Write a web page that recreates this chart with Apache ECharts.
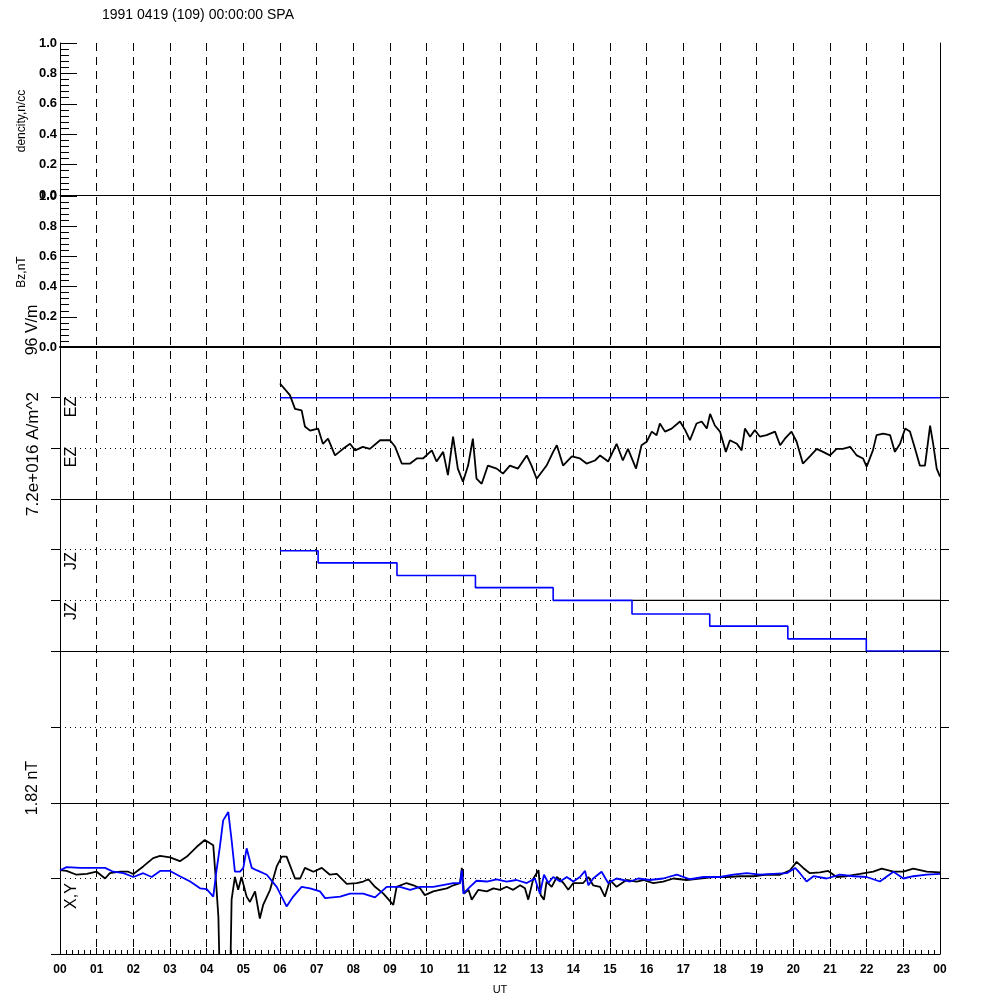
<!DOCTYPE html>
<html><head><meta charset="utf-8">
<script src="https://cdn.jsdelivr.net/npm/echarts@6/dist/echarts.min.js"></script>
<style>html,body{margin:0;padding:0;background:#fff}#c{width:1000px;height:1000px}</style>
</head><body><div id="c"></div>
<script>
const titleText = '1991 0419 (109) 00:00:00 SPA';
const hourLabels = ['00','01','02','03','04','05','06','07','08','09','10','11','12','13','14','15','16','17','18','19','20','21','22','23','00'];
const unitTicks = ['0.0','0.2','0.4','0.6','0.8','1.0'];

// EZ (black) trace, hours UT vs offset from blue baseline (dotted-line units)
const ezTrace = [[6.00,0.28],[6.27,0.05],[6.41,-0.22],[6.59,-0.25],[6.68,-0.57],[6.82,-0.65],[7.04,-0.61],[7.17,-0.91],[7.31,-0.81],[7.50,-1.14],[7.72,-1.01],[7.91,-0.91],[8.05,-1.04],[8.26,-0.97],[8.45,-1.01],[8.73,-0.84],[9.00,-0.84],[9.14,-0.97],[9.32,-1.30],[9.55,-1.30],[9.73,-1.20],[9.90,-1.20],[10.14,-1.04],[10.27,-1.26],[10.45,-1.07],[10.58,-1.53],[10.72,-0.77],[10.85,-1.40],[10.99,-1.66],[11.13,-1.34],[11.26,-0.81],[11.36,-1.60],[11.50,-1.70],[11.67,-1.34],[11.91,-1.40],[12.08,-1.50],[12.27,-1.34],[12.49,-1.40],[12.73,-1.14],[12.86,-1.34],[13.00,-1.60],[13.27,-1.34],[13.45,-1.07],[13.55,-0.94],[13.72,-1.34],[13.96,-1.16],[14.18,-1.20],[14.36,-1.30],[14.59,-1.24],[14.73,-1.14],[14.95,-1.26],[15.18,-0.91],[15.35,-1.24],[15.49,-1.01],[15.71,-1.40],[15.86,-0.94],[16.00,-0.87],[16.14,-0.67],[16.27,-0.74],[16.36,-0.51],[16.50,-0.67],[16.68,-0.61],[16.91,-0.47],[17.05,-0.64],[17.18,-0.84],[17.36,-0.51],[17.50,-0.47],[17.64,-0.61],[17.73,-0.32],[17.86,-0.55],[18.00,-0.67],[18.16,-1.07],[18.27,-0.84],[18.46,-0.91],[18.59,-1.04],[18.68,-0.61],[18.82,-0.77],[18.95,-0.64],[19.09,-0.77],[19.27,-0.74],[19.50,-0.67],[19.64,-0.94],[19.77,-0.81],[19.95,-0.67],[20.09,-0.87],[20.26,-1.30],[20.45,-1.16],[20.64,-1.01],[20.81,-1.07],[21.00,-1.14],[21.18,-1.01],[21.35,-1.01],[21.55,-0.97],[21.73,-1.14],[21.90,-1.20],[22.00,-1.36],[22.17,-1.04],[22.27,-0.74],[22.45,-0.71],[22.64,-0.74],[22.77,-1.07],[22.91,-0.91],[23.05,-0.61],[23.18,-0.67],[23.32,-1.01],[23.45,-1.34],[23.59,-1.34],[23.73,-0.55],[23.82,-0.94],[23.91,-1.40],[24.00,-1.56]];
// EZ blue baseline
const ezBlue = [[6,0],[24,0]];
// JZ blue step trace
const jzBlue = [[6.00,-0.02],[7.04,-0.26],[9.19,-0.51],[11.33,-0.75],[13.45,-1.0],[15.6,-1.27],[17.72,-1.51],[19.85,-1.76],[21.99,-2.0],[24.0,-2.0]];
const jzBlack = [[15.6,-1],[24,-1]];
// Magnetometer X (black) and Y (blue), normalized to the 1.82 nT scale
const magX = [[0.00,0.11],[0.18,0.10],[0.45,0.05],[0.73,0.06],[1.00,0.09],[1.23,0.00],[1.36,0.07],[1.64,0.09],[1.86,0.09],[2.00,0.06],[2.27,0.16],[2.54,0.27],[2.73,0.30],[3.00,0.28],[3.27,0.23],[3.46,0.29],[3.73,0.42],[3.95,0.51],[4.18,0.44],[4.27,-0.15],[4.32,-0.51],[4.36,-1.4],[4.64,-1.4],[4.68,-0.28],[4.77,0.02],[4.86,-0.15],[4.95,0.02],[5.09,-0.24],[5.18,-0.31],[5.32,-0.17],[5.45,-0.53],[5.54,-0.35],[5.73,-0.15],[5.91,0.16],[6.05,0.29],[6.18,0.29],[6.41,0.00],[6.55,0.00],[6.68,0.14],[6.91,0.09],[7.14,0.14],[7.36,0.05],[7.55,0.06],[7.82,-0.07],[8.09,-0.06],[8.27,-0.04],[8.41,-0.01],[8.59,-0.11],[8.82,-0.20],[9.09,-0.35],[9.18,-0.11],[9.45,-0.06],[9.64,-0.09],[9.82,-0.13],[9.95,-0.22],[10.18,-0.17],[10.36,-0.15],[10.55,-0.13],[10.73,-0.09],[10.91,-0.06],[10.96,0.14],[11.02,-0.20],[11.14,-0.15],[11.23,-0.28],[11.41,-0.15],[11.64,-0.17],[11.82,-0.13],[12.00,-0.15],[12.18,-0.11],[12.36,-0.15],[12.55,-0.09],[12.68,-0.13],[12.77,-0.28],[12.91,0.00],[13.05,0.11],[13.11,-0.22],[13.20,-0.28],[13.27,-0.04],[13.41,-0.11],[13.55,0.02],[13.73,-0.06],[13.86,-0.15],[14.00,-0.06],[14.27,-0.06],[14.41,0.02],[14.54,-0.09],[14.73,-0.11],[14.86,-0.24],[15.00,-0.02],[15.18,-0.11],[15.45,-0.02],[15.73,-0.04],[15.91,-0.02],[16.18,-0.06],[16.45,-0.04],[16.73,0.00],[17.09,-0.02],[17.45,0.00],[17.82,0.02],[18.18,0.02],[18.55,0.03],[18.91,0.03],[19.27,0.05],[19.64,0.05],[19.91,0.11],[20.09,0.22],[20.27,0.14],[20.45,0.07],[20.73,0.08],[20.95,0.10],[21.18,0.02],[21.45,0.03],[21.82,0.06],[22.18,0.09],[22.41,0.13],[22.73,0.09],[23.00,0.09],[23.27,0.13],[23.64,0.09],[24.00,0.08]];
const magY = [[0.00,0.11],[0.18,0.15],[0.55,0.14],[0.91,0.14],[1.23,0.14],[1.45,0.09],[1.73,0.07],[2.00,0.02],[2.27,0.07],[2.50,0.02],[2.73,0.10],[3.00,0.10],[3.27,0.03],[3.55,-0.04],[3.82,-0.13],[4.00,-0.14],[4.18,-0.24],[4.27,0.11],[4.36,0.42],[4.45,0.77],[4.59,0.88],[4.68,0.51],[4.77,0.09],[4.91,0.09],[5.00,0.14],[5.09,0.40],[5.23,0.14],[5.36,0.11],[5.64,0.05],[5.91,-0.11],[6.18,-0.37],[6.36,-0.24],[6.59,-0.11],[6.82,-0.13],[7.09,-0.17],[7.23,-0.26],[7.64,-0.24],[7.91,-0.20],[8.27,-0.20],[8.59,-0.25],[8.91,-0.11],[9.27,-0.11],[9.55,-0.15],[9.82,-0.11],[10.18,-0.11],[10.73,-0.06],[10.91,-0.06],[10.96,0.11],[11.00,-0.20],[11.18,-0.11],[11.36,-0.03],[11.64,-0.04],[11.91,-0.01],[12.18,-0.04],[12.45,-0.02],[12.73,-0.06],[12.95,0.00],[13.09,-0.20],[13.20,0.05],[13.32,-0.06],[13.45,0.02],[13.64,-0.04],[13.82,0.02],[14.00,-0.04],[14.18,0.02],[14.32,0.10],[14.41,-0.09],[14.54,0.00],[14.77,0.09],[14.95,-0.06],[15.18,0.00],[15.55,-0.04],[15.77,0.00],[16.09,-0.02],[16.45,0.00],[16.82,0.05],[17.18,-0.01],[17.55,0.02],[18.00,0.02],[18.36,0.05],[18.73,0.07],[19.09,0.05],[19.45,0.06],[19.82,0.07],[20.05,0.14],[20.18,0.07],[20.36,-0.04],[20.55,0.03],[20.91,0.00],[21.27,0.05],[21.64,0.03],[22.00,0.02],[22.36,-0.04],[22.73,0.09],[23.00,0.00],[23.27,0.03],[23.64,0.05],[24.00,0.06]];

const FONT = 'Liberation Sans';
const BLK = '#000';
const BLUE = '#0000ff';
const chart = echarts.init(document.getElementById('c'), null, {renderer:'canvas'});

const grids = [
  {left:60, right:60, top:43, height:911},   // 0 overlay (hour lines, frame)
  {left:60, right:60, top:43, height:152},   // 1 density
  {left:60, right:60, top:196, height:151},  // 2 Bz
  {left:60, right:60, top:347, height:152},  // 3 EZ
  {left:60, right:60, top:499, height:152},  // 4 JZ
  {left:60, right:60, top:651, height:152},  // 5 empty
  {left:60, right:60, top:803, height:151}   // 6 X,Y
];
const hidden = {show:false};
function xa(i, opts){
  return Object.assign({gridIndex:i, type:'value', min:0, max:24, interval:1,
    axisLine:{show:true, onZero:false, lineStyle:{color:BLK, width:1}},
    axisTick:hidden, axisLabel:hidden, splitLine:hidden}, opts||{});
}
const xAxes = [
  xa(0,{axisLine:hidden, splitLine:{show:true, showMinLine:false, showMaxLine:false, lineStyle:{color:BLK, width:1, type:[8,6]}}}),
  xa(1), xa(2,{axisLine:{show:true,onZero:false,lineStyle:{color:BLK,width:2}}}), xa(3), xa(4), xa(5),
  xa(6,{axisTick:{show:true, inside:true, length:6, lineStyle:{color:BLK}},
        minorTick:{show:true, splitNumber:6, length:4, lineStyle:{color:BLK}},
        axisLabel:{show:true, margin:10, color:BLK, fontFamily:FONT, fontWeight:'bold', fontSize:12,
          formatter:(v)=>hourLabels[Math.round(v)]}})
];
function unitY(i){
  return {gridIndex:i, type:'value', min:0, max:1, interval:0.2,
    axisLine:hidden, splitLine:hidden,
    axisTick:{show:true, inside:true, length:17, lineStyle:{color:BLK}},
    minorTick:{show:true, splitNumber:5, length:9, lineStyle:{color:BLK}},
    axisLabel:{show:true, margin:3, color:BLK, fontFamily:FONT, fontWeight:'bold', fontSize:13,
      formatter:(v)=>unitTicks[Math.round(v/0.2)]}};
}
function traceY(i, min, max, vals, pos){
  return {gridIndex:i, type:'value', min:min, max:max, interval:1, position:pos,
    axisLine:hidden, axisLabel:hidden,
    axisTick:{show:true, inside:false, length:9, customValues:vals, lineStyle:{color:BLK}},
    splitLine: pos==='left' ? {show:true, lineStyle:{color:BLK, width:1, type:[1,4]}} : hidden};
}
const yAxes = [
  {gridIndex:0, type:'value', min:0, max:1, position:'left', axisLine:{show:true, lineStyle:{color:BLK}}, axisTick:hidden, axisLabel:hidden, splitLine:hidden},
  {gridIndex:0, type:'value', min:0, max:1, position:'right', axisLine:{show:true, lineStyle:{color:BLK}}, axisTick:hidden, axisLabel:hidden, splitLine:hidden},
  unitY(1), unitY(2),
  traceY(3,-2,1,[-2,-1,0],'left'), traceY(3,-2,1,[-2,-1,0],'right'),
  traceY(4,-2,1,[-2,-1,0],'left'), traceY(4,-2,1,[-2,-1,0],'right'),
  traceY(5,-1,1,[-1,0],'left'), traceY(5,-1,1,[-1,0],'right'),
  traceY(6,-1,1,[-1,0,1],'left'), traceY(6,-1,1,[0,1],'right')
];
function line(data, xi, yi, color, width, extra){
  return Object.assign({type:'line', data:data, xAxisIndex:xi, yAxisIndex:yi, showSymbol:false, symbol:'none',
    animation:false, clip:true, lineStyle:{color:color, width:width}, z:3}, extra||{});
}
const series = [
  line(ezBlue, 3, 4, BLUE, 1.5),
  line(ezTrace, 3, 4, BLK, 1.8),
  line(jzBlack, 4, 6, BLK, 1.2),
  line(jzBlue, 4, 6, BLUE, 1.6, {step:'end'}),
  line(magX, 6, 10, BLK, 1.8),
  line(magY, 6, 10, BLUE, 1.8)
];
function rtext(x, y, txt, size){
  return {type:'text', x:x, y:y, rotation:Math.PI/2, z:10,
    style:{text:txt, fill:BLK, font:size+'px "'+FONT+'"', textAlign:'center', textVerticalAlign:'middle'}};
}
const graphic = [
  {type:'text', x:102, y:15, z:10, style:{text:titleText, fill:BLK, font:'14px "'+FONT+'"', textAlign:'left', textVerticalAlign:'middle'}},
  rtext(22, 121, 'dencity,n/cc', 12),
  rtext(22, 272, 'Bz,nT', 12),
  rtext(33, 330, '96 V/m', 16),
  rtext(33, 454, '7.2e+016 A/m^2', 17),
  rtext(33, 788, '1.82 nT', 16),
  rtext(72, 407, 'EZ', 16),
  rtext(72, 457, 'EZ', 16),
  rtext(72, 561, 'JZ', 16),
  rtext(72, 611, 'JZ', 16),
  rtext(72, 896, 'X,Y', 16),
  {type:'text', x:500, y:990, z:10, style:{text:'UT', fill:BLK, font:'11px "'+FONT+'"', textAlign:'center', textVerticalAlign:'middle'}}
];
chart.setOption({
  animation:false, backgroundColor:'#fff',
  grid:grids, xAxis:xAxes, yAxis:yAxes, series:series, graphic:graphic
});
</script></body></html>
